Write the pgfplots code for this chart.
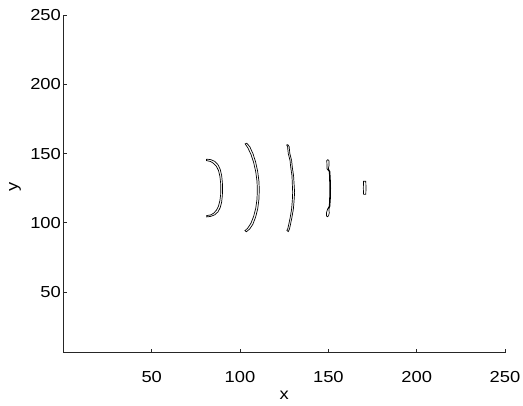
\documentclass[border=0pt]{standalone}
\usepackage{pgfplots}
\pgfplotsset{compat=1.18}
\usepackage{fontspec}
\setmainfont{Liberation Sans}[FakeStretch=1.15]

% contour loops
\newcommand{\contourA}{(81,146.0) (83.5,145.6) (85.8,144.3) (87.6,141.8) (88.8,138.5) (89.6,134) (90.0,129) (90.1,125) (90.0,120) (89.6,115) (88.8,111) (87.6,108) (85.8,105.8) (83.5,104.6) (81.2,104.2)
 (81.2,105.2) (83.3,105.6) (85.0,106.8) (86.6,109) (87.8,112) (88.6,116) (89.0,120) (89.1,125) (89.0,129) (88.6,133.5) (87.8,137.8) (86.6,140.8) (85.0,142.9) (83.3,144.3) (81,144.9) (81,146.0)}

\begin{document}
\begin{tikzpicture}
\begin{axis}[
  scale only axis,
  width=441.6bp, height=337.4bp,
  xmin=0, xmax=250, ymin=6, ymax=250,
  axis x line=bottom, axis y line=left,
  axis line style={-, line width=0.7pt, black!85},
  xtick={50,100,...,250}, ytick={50,100,...,250},
  tick align=inside, major tick length=4bp,
  tick style={line width=0.7pt, black!85},
  font=\fontsize{16}{19}\selectfont,
  /pgf/number format/assume math mode=true,
  xticklabel style={yshift=-15bp},
  yticklabel style={xshift=1bp},
  xlabel={x}, ylabel={y},
  xlabel style={at={(axis description cs:0.5,-0.1254)}, anchor=center},
  ylabel style={at={(axis description cs:-0.1096,0.49)}, anchor=center},
  clip=false,
]
\addplot[black, line width=0.7pt] coordinates {\contourA};
\addplot[black, line width=0.7pt] coordinates {
  (103.8,157.5) (105.5,155) (107.3,150) (108.8,144) (110,137) (110.7,130) (110.9,124) (110.7,117) (110,110) (108.8,104) (107.3,99) (105.5,95.5) (103.6,93.5)
  (102.8,94.2) (104.4,96.2) (106.2,99.7) (107.7,104.6) (108.9,110.5) (109.6,117) (109.8,124) (109.6,130) (108.9,136.8) (107.7,143.6) (106.2,149.4) (104.4,154.2) (102.9,157) (103.8,157.5)};
\addplot[black, line width=0.7pt] coordinates {
  (127.0,156.5) (127.8,155) (128.2,150) (129.2,145) (129.6,140) (130.3,134) (130.6,128) (130.9,122) (130.6,116) (130.2,110) (129.4,104) (128.6,99) (128.0,95.5) (127.3,93.6)
  (126.5,94.5) (127.1,96) (127.7,99.5) (128.5,104.5) (129.2,110) (129.6,116) (129.8,122) (129.6,128) (129.4,134) (128.7,140) (128.3,145) (127.3,150) (126.9,155) (126.4,156.2) (127.0,156.5)};
\addplot[black, line width=0.7pt] coordinates {
  (149.6,145.6) (150.3,145) (150.4,141.5) (150.0,139) (150.9,137) (151.2,130) (151.3,125) (151.2,118) (150.9,112) (150.3,110) (150.5,107) (150.1,105) (149.4,104.3)
  (148.9,105) (149.0,107.5) (149.6,110) (150.5,112) (150.7,118) (150.8,125) (150.7,130) (150.5,137) (149.2,139) (149.2,142) (149.1,145) (149.6,145.6)};
\addplot[black, line width=0.7pt] coordinates {
  (169.9,120.5) (171.2,120.5) (171.3,125) (171.2,130) (169.9,130) (169.8,125) (169.9,120.5)};
\end{axis}
\pgfresetboundingbox
\path (-63.4bp,-53.3bp) rectangle (459.6bp,352.7bp);
\end{tikzpicture}
\end{document}
